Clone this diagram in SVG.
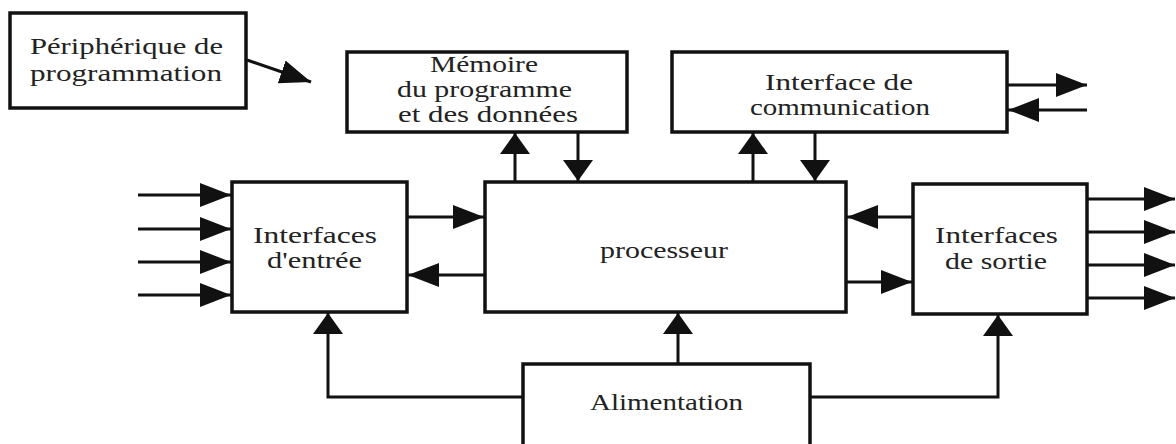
<svg xmlns="http://www.w3.org/2000/svg" width="1176" height="444" viewBox="0 0 1176 444">
<defs>
<style>
.box{fill:#fff;stroke:#111;stroke-width:3.5}
text{font-family:'Liberation Serif','Times New Roman','DejaVu Serif',serif;font-size:23px;fill:#222}
.c{fill:none;stroke:#111;stroke-width:3}
</style>
<marker id="ah" markerUnits="userSpaceOnUse" markerWidth="34" markerHeight="26" refX="31" refY="12" orient="auto">
<path d="M0,0 L31,12 L0,24 z" fill="#111"/>
</marker>
<marker id="av" markerUnits="userSpaceOnUse" markerWidth="24" markerHeight="32" refX="21" refY="15" orient="auto">
<path d="M0,0 L21,15 L0,30 z" fill="#111"/>
</marker>
</defs>
<rect width="1176" height="444" fill="#fff"/>

<g id="connectors">
<line class="c" x1="247" y1="60" x2="311" y2="82" marker-end="url(#ah)"/>
<line class="c" x1="515" y1="182" x2="515" y2="133" marker-end="url(#av)"/>
<line class="c" x1="578" y1="132" x2="578" y2="181" marker-end="url(#av)"/>
<line class="c" x1="753" y1="182" x2="753" y2="133" marker-end="url(#av)"/>
<line class="c" x1="815" y1="132" x2="815" y2="181" marker-end="url(#av)"/>
<line class="c" x1="407" y1="217" x2="484" y2="217" marker-end="url(#ah)"/>
<line class="c" x1="485" y1="275" x2="408" y2="275" marker-end="url(#ah)"/>
<line class="c" x1="913" y1="217" x2="847" y2="217" marker-end="url(#ah)"/>
<line class="c" x1="846" y1="282" x2="912" y2="282" marker-end="url(#ah)"/>
<line class="c" x1="1007" y1="85" x2="1087" y2="85" marker-end="url(#ah)"/>
<line class="c" x1="1087" y1="110" x2="1008" y2="110" marker-end="url(#ah)"/>
<line class="c" x1="138" y1="195" x2="231" y2="195" marker-end="url(#ah)"/>
<line class="c" x1="138" y1="229" x2="231" y2="229" marker-end="url(#ah)"/>
<line class="c" x1="138" y1="262" x2="231" y2="262" marker-end="url(#ah)"/>
<line class="c" x1="138" y1="295" x2="231" y2="295" marker-end="url(#ah)"/>
<line class="c" x1="1087" y1="199" x2="1175" y2="199" marker-end="url(#ah)"/>
<line class="c" x1="1087" y1="232" x2="1175" y2="232" marker-end="url(#ah)"/>
<line class="c" x1="1087" y1="265" x2="1175" y2="265" marker-end="url(#ah)"/>
<line class="c" x1="1087" y1="298" x2="1175" y2="298" marker-end="url(#ah)"/>
<polyline class="c" points="523,397 328,397 328,313" marker-end="url(#av)"/>
<polyline class="c" points="810,397 998,397 998,315" marker-end="url(#av)"/>
<line class="c" x1="678" y1="364" x2="678" y2="313" marker-end="url(#av)"/>
</g>

<g id="peripherique">
<rect class="box" x="10" y="13" width="236" height="95"/>
<text font-family="Liberation Serif, serif" x="30" y="54" textLength="193" lengthAdjust="spacingAndGlyphs">Périphérique de</text>
<text font-family="Liberation Serif, serif" x="30" y="81" textLength="192" lengthAdjust="spacingAndGlyphs">programmation</text>
</g>

<g id="memoire">
<rect class="box" x="347" y="52" width="280" height="80"/>
<text font-family="Liberation Serif, serif" x="430" y="72" textLength="108" lengthAdjust="spacingAndGlyphs">Mémoire</text>
<text font-family="Liberation Serif, serif" x="397" y="97" textLength="175" lengthAdjust="spacingAndGlyphs">du programme</text>
<text font-family="Liberation Serif, serif" x="398" y="122" textLength="180" lengthAdjust="spacingAndGlyphs">et des données</text>
</g>

<g id="communication">
<rect class="box" x="672" y="52" width="335" height="80"/>
<text font-family="Liberation Serif, serif" x="765" y="90" textLength="148" lengthAdjust="spacingAndGlyphs">Interface de</text>
<text font-family="Liberation Serif, serif" x="750" y="115" textLength="180" lengthAdjust="spacingAndGlyphs">communication</text>
</g>

<g id="entree">
<rect class="box" x="232" y="182" width="175" height="130"/>
<text font-family="Liberation Serif, serif" x="253" y="243" textLength="124" lengthAdjust="spacingAndGlyphs">Interfaces</text>
<text font-family="Liberation Serif, serif" x="267" y="268" textLength="95" lengthAdjust="spacingAndGlyphs">d'entrée</text>
</g>

<g id="processeur">
<rect class="box" x="485" y="182" width="361" height="130"/>
<text font-family="Liberation Serif, serif" x="600" y="258" textLength="128" lengthAdjust="spacingAndGlyphs">processeur</text>
</g>

<g id="sortie">
<rect class="box" x="913" y="184" width="174" height="130"/>
<text font-family="Liberation Serif, serif" x="935" y="243" textLength="123" lengthAdjust="spacingAndGlyphs">Interfaces</text>
<text font-family="Liberation Serif, serif" x="945" y="269" textLength="102" lengthAdjust="spacingAndGlyphs">de sortie</text>
</g>

<g id="alimentation">
<rect class="box" x="523" y="364" width="287" height="84"/>
<text font-family="Liberation Serif, serif" x="590" y="410" textLength="153" lengthAdjust="spacingAndGlyphs">Alimentation</text>
</g>
</svg>
